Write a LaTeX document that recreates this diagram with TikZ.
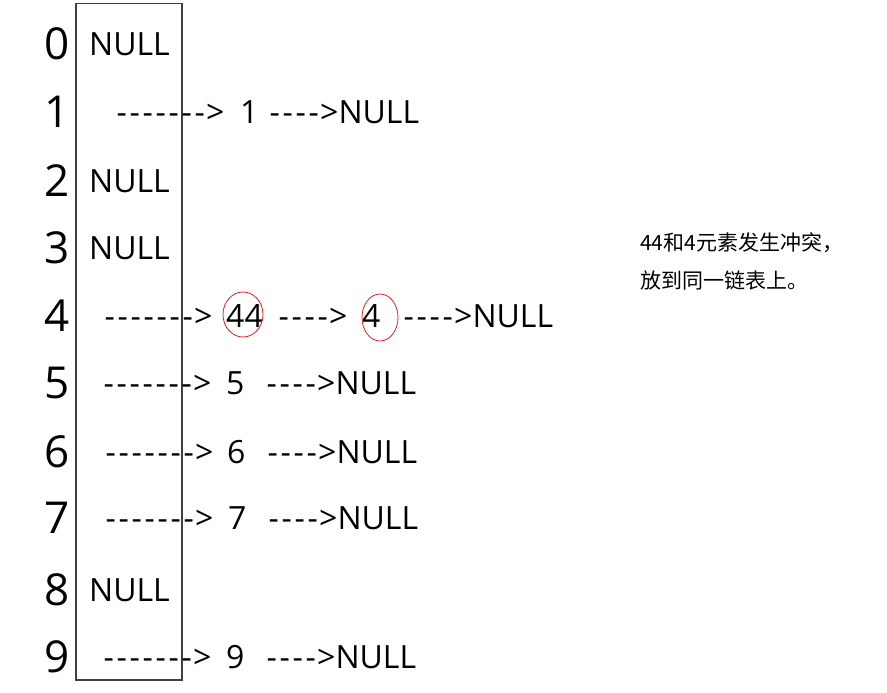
\documentclass[tikz,border=0pt]{standalone}
\usepackage{fontspec}
\setmainfont{Open Sans}
\newfontfamily\cjk{Noto Sans CJK SC}
\usetikzlibrary{positioning}
\definecolor{boxgray}{RGB}{64,64,64}
\definecolor{hitred}{RGB}{225,30,35}
% typed arrow: n hyphens then >
\newcommand{\dsh}[1]{\foreach \k in {1,...,#1}{\makebox[13pt]{-}}>}

\begin{document}
\begin{tikzpicture}[x=1pt, y=-1pt,
      idx/.style={anchor=base, inner sep=0pt, font=\fontsize{44}{44}\selectfont},
      txt/.style={anchor=base west, inner sep=0pt, font=\fontsize{32}{32}\selectfont},
      note/.style={anchor=base west, inner sep=0pt, font=\cjk\fontsize{21}{21}\selectfont},
      hit/.style={draw=hitred, line width=0.8pt}
    ]
      \useasboundingbox (0,0) rectangle (887,693);
      % bucket column
      \draw[boxgray, line width=1.2pt] (76,3.5) rectangle (182,680);
      \foreach \r/\c in {0/44,1/112,2/181,3/248,4/316,5/383,6/452,7/518,8/590,9/657}
        \node[idx] (i\r) at (57,\c+15.5) {\r};
      % empty buckets
      \node[txt] (n0) at (89,55.5) {NULL};
      \node[txt] (n2) at (89,192.5) {NULL};
      \node[txt] (n3) at (89,259.5) {NULL};
      \node[txt] (n8) at (89,601.5) {NULL};
      % bucket 1
      \node[txt] (a1) at (115,123.5) {\dsh{7}};
      \node[txt] (v1) at (240,123.5) {1};
      \node[txt] (b1) at (268,123.5) {\dsh{4}NULL};
      % bucket 4: collision
      \node[txt] (a4) at (103,327.5) {\dsh{7}};
      \node[txt] (v44) at (226,327.5) {44};
      \node[txt] (b4) at (277,327.5) {\dsh{4}};
      \node[txt] (v4) at (362,327.5) {4};
      \node[txt] (c4) at (402,327.5) {\dsh{4}NULL};
      \draw[hit] (243,314.5) ellipse [x radius=20pt, y radius=22.5pt];
      \draw[hit] (380,317.5) ellipse [x radius=18pt, y radius=23.5pt];
      % buckets 5,6,7,9
      \node[txt] (a5) at (102,394.5) {\dsh{7}};
      \node[txt] (v5) at (226,394.5) {5};
      \node[txt] (b5) at (265,394.5) {\dsh{4}NULL};
      \node[txt] (a6) at (104,463.5) {\dsh{7}};
      \node[txt] (v6) at (227,463.5) {6};
      \node[txt] (b6) at (266,463.5) {\dsh{4}NULL};
      \node[txt] (a7) at (104,529.5) {\dsh{7}};
      \node[txt] (v7) at (228,529.5) {7};
      \node[txt] (b7) at (267,529.5) {\dsh{4}NULL};
      \node[txt] (a9) at (102,668.5) {\dsh{7}};
      \node[txt] (v9) at (226,668.5) {9};
      \node[txt] (b9) at (265,668.5) {\dsh{4}NULL};
      % remark
      \node[note] (t1) at (640,250) {44和4元素发生冲突，};
      \node[note] (t2) at (640,288) {放到同一链表上。};
    \end{tikzpicture}
\end{document}
